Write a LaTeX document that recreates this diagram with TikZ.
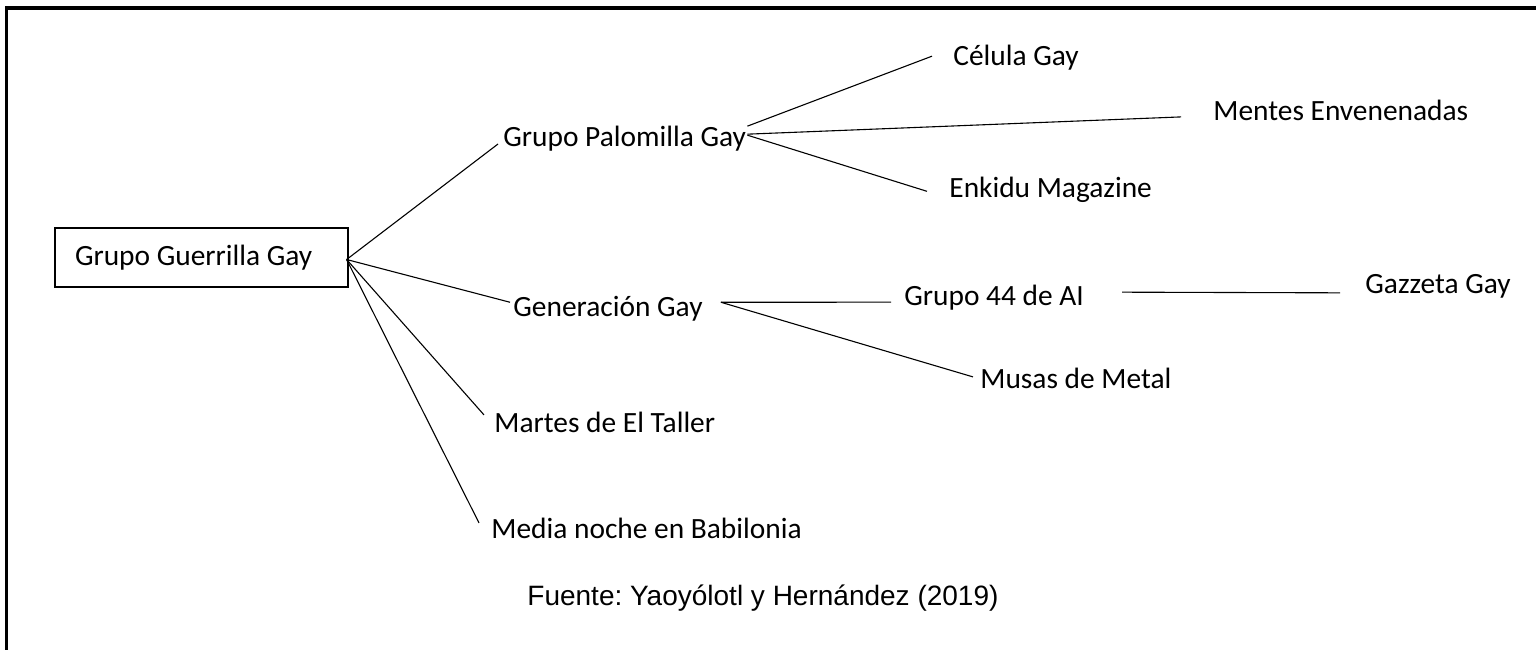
\documentclass[tikz,border=0pt]{standalone}
\usepackage{fontspec}
\setmainfont{Carlito}
\newfontfamily\arialfont{Liberation Sans}
\usetikzlibrary{calc}
\frenchspacing

\begin{document}
\begin{tikzpicture}[
  x=0.5pt, y=-0.5pt,
  font=\fontsize{14.7}{17}\selectfont,
  rootbox/.style={draw, line width=0.6pt, text width=126.5pt, align=flush left,
    inner xsep=10pt, inner ysep=0pt, minimum height=29.5pt},
  leaf/.style={anchor=base west, inner sep=0.5pt},
  link/.style={line width=0.55pt},
  frame/.style={line width=1.6pt},
]
\useasboundingbox (0,0) rectangle (1536,649);

% ---------------- outer frame (only top and left edges fall inside)
\draw[frame] (6.5,700) -- (6.5,8) -- (1600,8);

% ---------------- root and first level
\node[rootbox] (guerrilla) at (201.5,257.5) {Grupo Guerrilla Gay\hfill};
\coordinate (hub) at ($(guerrilla.east)+(-2,2)$);

\node[leaf] (palomilla) at (502,146) {Grupo Palomilla Gay};
\node[leaf] (generacion) at (512,316) {Generación Gay};
\node[leaf] (martes) at (493,432) {Martes de El Taller};
\node[leaf] (media) at (490,538) {Media noche en Babilonia};

\draw[link] (hub) -- ($(palomilla.base west)+(-4,-2)$);
\draw[link] (hub) -- ($(generacion.west)+(-2,-6)$);
\draw[link] (hub) -- ($(martes.west)+(-9,-7)$);
\draw[link] (hub) -- ($(media.west)+(-11,-5)$);

% ---------------- Grupo Palomilla Gay
\node[leaf] (celula) at (952,65) {Célula Gay};
\node[leaf] (mentes) at (1212,120) {Mentes Envenenadas};
\node[leaf] (enkidu) at (948,197) {Enkidu Magazine};

\draw[link] ($(palomilla.east)+(0,-12)$) -- ($(celula.west)+(-20,-1)$);
\draw[link] ($(palomilla.east)+(0,-4)$) -- ($(mentes.west)+(-31,7)$);
\draw[link] ($(palomilla.east)+(0,-3)$) -- ($(enkidu.west)+(-21,2)$);

% ---------------- Generación Gay
\node[leaf] (grupo44) at (903,305) {Grupo 44 de AI};
\node[leaf] (musas) at (979,388) {Musas de Metal};
\node[leaf] (gazzeta) at (1364,293) {Gazzeta Gay};
\coordinate (genhub) at ($(generacion.east)+(17,-6)$);

\draw[link] (genhub) -- ($(grupo44.west)+(-12,5)$);
\draw[link] (genhub) -- ($(musas.west)+(-6,-1)$);
\draw[link] ($(grupo44.east)+(37,-5)$) -- ($(gazzeta.west)+(-24,7)$);

% ---------------- source
\node[leaf, font=\arialfont\fontsize{14}{16}\selectfont] (fuente) at (526,605)
  {Fuente: Yaoyólotl y Hernández (2019)};

\end{tikzpicture}
\end{document}
